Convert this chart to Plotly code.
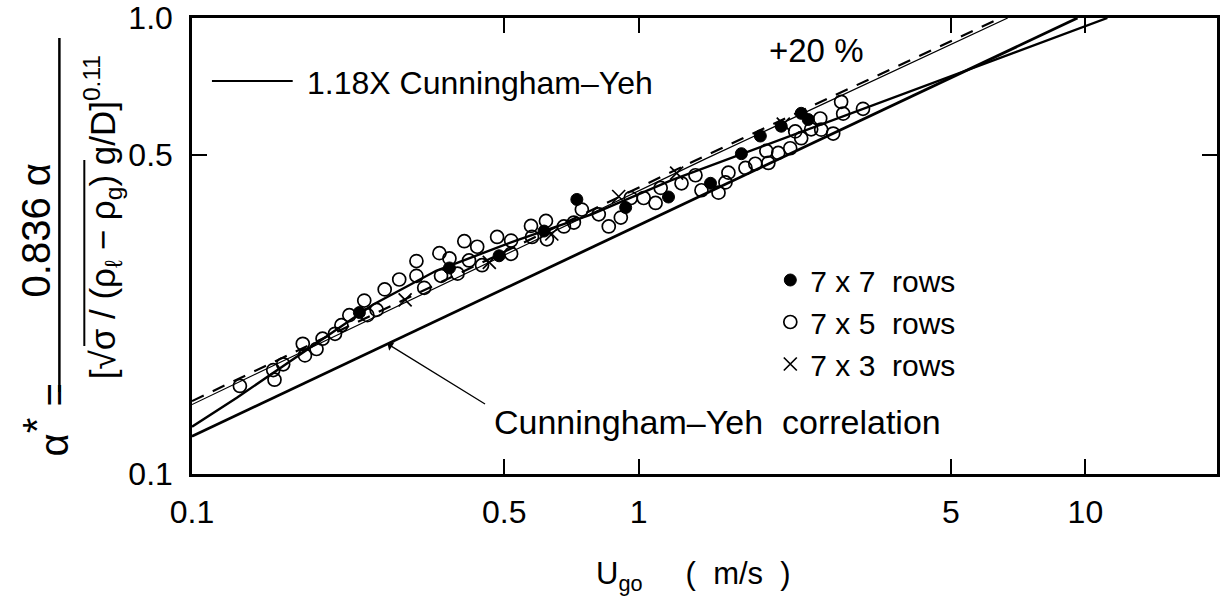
import plotly.graph_objects as go
import math

# ---------------- data ----------------
# 7 x 5 rows (open circles)
x_7x5 = [0.128, 0.152, 0.153, 0.160, 0.177, 0.179, 0.190, 0.196, 0.209, 0.216,
         0.225, 0.243, 0.247, 0.259, 0.270, 0.291, 0.318, 0.318, 0.331, 0.358,
         0.361, 0.377, 0.393, 0.407, 0.417, 0.435, 0.446, 0.482, 0.518, 0.518,
         0.574, 0.577, 0.620, 0.623, 0.680, 0.716, 0.746, 0.814, 0.857, 0.912,
         0.960, 1.026, 1.091, 1.120, 1.247, 1.340, 1.382, 1.509, 1.564, 1.588,
         1.734, 1.824, 1.951, 1.931, 2.053, 2.184, 2.241, 2.311, 2.433, 2.549,
         2.562, 2.725, 2.839, 2.869, 3.178]
y_7x5 = [0.156, 0.169, 0.161, 0.174, 0.193, 0.182, 0.188, 0.198, 0.203, 0.212,
         0.223, 0.240, 0.223, 0.229, 0.254, 0.267, 0.272, 0.293, 0.256, 0.305,
         0.272, 0.297, 0.275, 0.324, 0.294, 0.315, 0.287, 0.331, 0.325, 0.304,
         0.350, 0.331, 0.359, 0.327, 0.349, 0.356, 0.380, 0.371, 0.349, 0.365,
         0.403, 0.403, 0.393, 0.424, 0.434, 0.452, 0.419, 0.414, 0.436, 0.458,
         0.469, 0.479, 0.481, 0.511, 0.506, 0.518, 0.564, 0.545, 0.570, 0.602,
         0.569, 0.558, 0.655, 0.617, 0.632]

# 7 x 7 rows (filled circles)
x_7x7 = [0.237, 0.377, 0.487, 0.614, 0.727, 0.935, 1.166, 1.448, 1.698, 1.872, 2.085, 2.311, 2.396]
y_7x7 = [0.226, 0.283, 0.301, 0.341, 0.400, 0.384, 0.405, 0.434, 0.504, 0.551, 0.579, 0.618, 0.599]

# 7 x 3 rows (crosses)
x_7x3 = [0.300, 0.463, 0.639, 0.902, 1.216, 2.107]
y_7x3 = [0.241, 0.291, 0.336, 0.406, 0.457, 0.585]

# Cunningham-Yeh correlation (lower solid line)
cy_x = [0.1, 9.6]
cy_y = [0.121, 1.0]

# 1.18 X Cunningham-Yeh (thin solid)
cy118_x = [0.1, 1.411, 6.7]
cy118_y = [0.142, 0.491, 1.0]

# +20 % (dashed)
p20_x = [0.1, 1.411, 6.46]
p20_y = [0.1445, 0.499, 1.0]

# curve drawn through the data
trend_x = [0.1, 0.126, 0.254, 0.352, 0.531, 0.785, 1.185, 3.38, 11.2]
trend_y = [0.127, 0.147, 0.235, 0.279, 0.325, 0.371, 0.441, 0.645, 1.0]

x_ticks = [0.1, 0.5, 1, 5, 10]
x_ticktext = ["0.1", "0.5", "1", "5", "10"]
y_ticks = [0.1, 0.5, 1.0]
y_ticktext = ["0.1", "0.5", "1.0"]

# ---------------- figure ----------------
W, H = 1220, 597
L, R, T, B = 192, 0, 18, 123
PW, PH = W - L - R, H - T - B
FONT = "Liberation Sans, Arial, sans-serif"


def px(xp):
    return (xp - L) / PW


def py(yp):
    return (H - B - yp) / PH


def label(xp, yp, text, size, angle=0, xanchor="center"):
    fig.add_annotation(xref="paper", yref="paper", x=px(xp), y=py(yp),
                       xanchor=xanchor, yanchor="middle", text=text,
                       showarrow=False, textangle=angle,
                       font=dict(family=FONT, size=size, color="black"))


fig = go.Figure()

fig.add_trace(go.Scatter(x=cy_x, y=cy_y, mode="lines", showlegend=False,
                         line=dict(color="black", width=2.8), hoverinfo="skip"))
fig.add_trace(go.Scatter(x=trend_x, y=trend_y, mode="lines", showlegend=False,
                         line=dict(color="black", width=2.4), hoverinfo="skip"))
fig.add_trace(go.Scatter(x=cy118_x, y=cy118_y, mode="lines", showlegend=False,
                         line=dict(color="black", width=1.2), hoverinfo="skip"))
fig.add_trace(go.Scatter(x=p20_x, y=p20_y, mode="lines", showlegend=False,
                         line=dict(color="black", width=2.2, dash="13px,10px"), hoverinfo="skip"))

fig.add_trace(go.Scatter(x=x_7x7, y=y_7x7, mode="markers", name="7 x 7  rows",
                         legendgroup="a",
                         marker=dict(symbol="circle", size=12, color="black",
                                     line=dict(color="black", width=1))))
fig.add_trace(go.Scatter(x=x_7x5, y=y_7x5, mode="markers", name="7 x 5  rows",
                         legendgroup="b",
                         marker=dict(symbol="circle-open", size=13, color="black",
                                     line=dict(color="black", width=1.7))))
fig.add_trace(go.Scatter(x=x_7x3, y=y_7x3, mode="markers", name="7 x 3  rows",
                         legendgroup="c",
                         marker=dict(symbol="x-thin-open", size=13, color="black",
                                     line=dict(color="black", width=1.7))))

axis_common = dict(type="log", showgrid=False, zeroline=False, showline=True,
                   linecolor="black", linewidth=2.5, mirror="ticks",
                   ticks="inside", ticklen=15, tickwidth=1.5, tickcolor="black",
                   tickfont=dict(family=FONT, size=32, color="black"))

fig.update_layout(
    width=W, height=H,
    margin=dict(l=L, r=R, t=T, b=B, pad=0),
    paper_bgcolor="white", plot_bgcolor="white",
    font=dict(family=FONT, color="black"),
    xaxis=dict(range=[-1, -1 + PW / 448.0], tickvals=x_ticks, ticktext=x_ticktext,
               ticklabelstandoff=8, **axis_common),
    yaxis=dict(range=[-1, 0], tickvals=y_ticks, ticktext=y_ticktext,
               ticklabelstandoff=10, **axis_common),
    legend=dict(x=px(772), y=py(254), xanchor="left", yanchor="top",
                bgcolor="rgba(0,0,0,0)", borderwidth=0, tracegroupgap=9,
                font=dict(family=FONT, size=30, color="black"), traceorder="normal"),
    showlegend=True,
)

# legend line for "1.18 X Cunningham-Yeh"
fig.add_shape(type="line", xref="paper", yref="paper",
              x0=px(212), x1=px(293), y0=py(81), y1=py(81),
              line=dict(color="black", width=2))
label(305, 83, "1.18X Cunningham\u2013Yeh", 32, xanchor="left")

label(818, 51, "+20 %", 33)

# Cunningham-Yeh correlation label and arrow
label(493, 422, "Cunningham\u2013Yeh  correlation", 34, xanchor="left")
lx = math.log10(0.274)
ly = math.log10(cy_y[0]) + (lx - math.log10(cy_x[0])) * (
    (math.log10(cy_y[1]) - math.log10(cy_y[0])) / (math.log10(cy_x[1]) - math.log10(cy_x[0])))
fig.add_annotation(x=lx, y=ly, xref="x", yref="y", ax=99, ay=61, axref="pixel", ayref="pixel",
                   text="", showarrow=True, arrowhead=1, arrowsize=1.3, arrowwidth=1.3,
                   arrowcolor="black")

# x-axis title
label(695, 576, "U<sub>go</sub>     (  m/s  )", 31)

# y-axis title (rotated fraction)
label(36, 230, "0.836 \u03b1", 40, angle=-90)
fig.add_shape(type="line", xref="paper", yref="paper",
              x0=px(59), x1=px(59), y0=py(38), y1=py(392),
              line=dict(color="black", width=2.5))
label(102, 217,
      "[\u221a\u03c3 / (\u03c1<sub>\u2113</sub> \u2212 \u03c1<sub>g</sub>) g/D]<sup>0.11</sup>",
      35, angle=-90)
fig.add_shape(type="line", xref="paper", yref="paper",
              x0=px(84), x1=px(84), y0=py(160), y1=py(346),
              line=dict(color="black", width=2))
label(45, 420, "\u03b1<sup><span style='font-size:40px'>*</span></sup> =", 40, angle=-90)

fig.write_html("out.html")
